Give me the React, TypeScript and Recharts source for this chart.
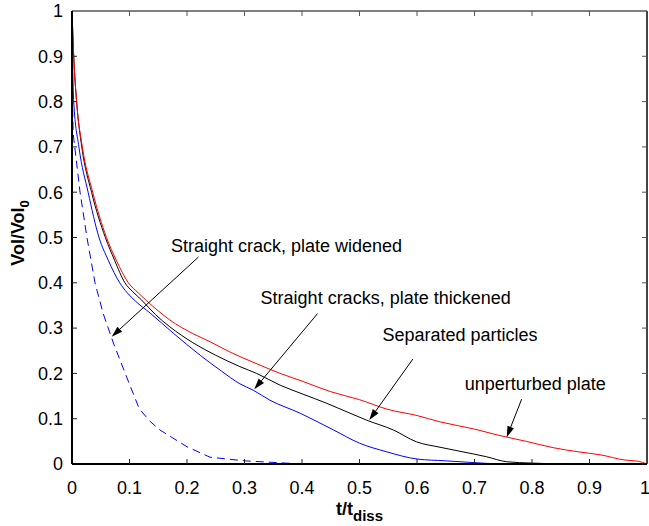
import React from "react";
import {
  LineChart,
  Line,
  XAxis,
  YAxis,
  ReferenceArea,
  ReferenceLine,
  ReferenceDot,
} from "recharts";

type Pt = { x: number; y: number };

// unperturbed plate (red)
const unperturbed: Pt[] = [
  { x: 0, y: 1 }, { x: 0.003, y: 0.9 }, { x: 0.008, y: 0.8 }, { x: 0.018, y: 0.7 },
  { x: 0.036, y: 0.6 }, { x: 0.06, y: 0.5 }, { x: 0.077, y: 0.45 }, { x: 0.098, y: 0.4 },
  { x: 0.115, y: 0.378 }, { x: 0.13, y: 0.36 }, { x: 0.15, y: 0.338 },
  { x: 0.17, y: 0.318 }, { x: 0.21, y: 0.288 }, { x: 0.24, y: 0.27 }, { x: 0.275, y: 0.247 },
  { x: 0.32, y: 0.222 }, { x: 0.362, y: 0.2 }, { x: 0.4, y: 0.183 }, { x: 0.449, y: 0.16 },
  { x: 0.5, y: 0.142 }, { x: 0.548, y: 0.121 }, { x: 0.6, y: 0.107 }, { x: 0.64, y: 0.093 },
  { x: 0.7, y: 0.077 }, { x: 0.74, y: 0.064 }, { x: 0.79, y: 0.05 }, { x: 0.837, y: 0.036 },
  { x: 0.88, y: 0.027 }, { x: 0.92, y: 0.02 }, { x: 0.96, y: 0.009 }, { x: 0.985, y: 0.006 },
  { x: 1, y: 0 },
];

// separated particles (black)
const separated: Pt[] = [
  { x: 0, y: 1 }, { x: 0.003, y: 0.9 }, { x: 0.008, y: 0.8 }, { x: 0.017, y: 0.7 },
  { x: 0.034, y: 0.6 }, { x: 0.058, y: 0.5 }, { x: 0.074, y: 0.45 }, { x: 0.092, y: 0.4 },
  { x: 0.106, y: 0.38 }, { x: 0.121, y: 0.362 }, { x: 0.145, y: 0.33 },
  { x: 0.17, y: 0.303 }, { x: 0.21, y: 0.268 }, { x: 0.25, y: 0.24 }, { x: 0.292, y: 0.215 },
  { x: 0.321, y: 0.2 }, { x: 0.362, y: 0.174 }, { x: 0.4, y: 0.155 }, { x: 0.443, y: 0.134 },
  { x: 0.48, y: 0.114 }, { x: 0.512, y: 0.097 }, { x: 0.559, y: 0.075 }, { x: 0.599, y: 0.049 },
  { x: 0.64, y: 0.037 }, { x: 0.675, y: 0.028 }, { x: 0.721, y: 0.016 }, { x: 0.756, y: 0.005 },
  { x: 0.8, y: 0.002 }, { x: 0.85, y: 0 },
];

// straight cracks, plate thickened (blue solid)
const thickened: Pt[] = [
  { x: 0, y: 0.95 }, { x: 0.003, y: 0.8 }, { x: 0.012, y: 0.7 }, { x: 0.028, y: 0.6 },
  { x: 0.047, y: 0.5 }, { x: 0.063, y: 0.45 }, { x: 0.083, y: 0.4 }, { x: 0.096, y: 0.378 },
  { x: 0.11, y: 0.36 }, { x: 0.136, y: 0.333 },
  { x: 0.176, y: 0.289 }, { x: 0.223, y: 0.24 }, { x: 0.26, y: 0.205 }, { x: 0.292, y: 0.177 },
  { x: 0.315, y: 0.163 }, { x: 0.344, y: 0.141 }, { x: 0.397, y: 0.112 }, { x: 0.455, y: 0.075 },
  { x: 0.5, y: 0.046 }, { x: 0.547, y: 0.027 }, { x: 0.6, y: 0.011 }, { x: 0.65, y: 0.007 },
  { x: 0.687, y: 0.004 }, { x: 0.74, y: 0 },
];

// straight crack, plate widened (blue dashed)
const widened: Pt[] = [
  { x: 0, y: 0.87 }, { x: 0.002, y: 0.73 }, { x: 0.014, y: 0.6 }, { x: 0.026, y: 0.5 },
  { x: 0.04, y: 0.4 }, { x: 0.054, y: 0.333 }, { x: 0.072, y: 0.267 }, { x: 0.095, y: 0.192 },
  { x: 0.117, y: 0.122 }, { x: 0.135, y: 0.095 }, { x: 0.153, y: 0.075 }, { x: 0.2, y: 0.038 },
  { x: 0.24, y: 0.015 }, { x: 0.3, y: 0.007 }, { x: 0.385, y: 0.001 },
];

const ticks = [0, 0.1, 0.2, 0.3, 0.4, 0.5, 0.6, 0.7, 0.8, 0.9, 1];

// annotation text: left edge x, middle y
const notes = [
  { text: "Straight crack, plate widened", x: 0.172, y: 0.483 },
  { text: "Straight cracks, plate thickened", x: 0.328, y: 0.368 },
  { text: "Separated particles", x: 0.54, y: 0.285 },
  { text: "unperturbed plate", x: 0.683, y: 0.178 },
];

// arrows: tail -> head
const arrows = [
  { x1: 0.22, y1: 0.457, x2: 0.069, y2: 0.281 },
  { x1: 0.427, y1: 0.332, x2: 0.317, y2: 0.165 },
  { x1: 0.593, y1: 0.232, x2: 0.517, y2: 0.097 },
  { x1: 0.782, y1: 0.143, x2: 0.756, y2: 0.059 },
];

const W = 649;
const H = 526;
const MARGIN = { top: 11, right: 2, bottom: 0, left: 0 };
const X_H = 62;
const Y_W = 72;
const X_MARGIN = 17;
const Y_MARGIN = 9;
const TICK = 5;

const Arrow = (p: any) => {
  const { x1, y1, x2, y2 } = p;
  const a = Math.atan2(y2 - y1, x2 - x1);
  const len = 11;
  const w = 3.5;
  const bx = x2 - len * Math.cos(a);
  const by = y2 - len * Math.sin(a);
  const nx = -Math.sin(a) * w;
  const ny = Math.cos(a) * w;
  return (
    <g>
      <line x1={x1} y1={y1} x2={bx} y2={by} stroke="#000" strokeWidth={1} />
      <polygon
        points={`${x2},${y2} ${bx + nx},${by + ny} ${bx - nx},${by - ny}`}
        fill="#000"
      />
    </g>
  );
};

// plot box outline from the area's own rectangle
const Frame = (p: any) => {
  const { x, y, width, height } = p;
  return (
    <g>
      <line x1={x} y1={y} x2={x + width} y2={y} stroke="#000" strokeWidth={1} />
      <line x1={x + width} y1={y} x2={x + width} y2={y + height} stroke="#444" strokeWidth={2} />
    </g>
  );
};

// bottom tick label plus inward tick marks on bottom and top edges
const XTick = (p: any) => {
  const v = p.payload.value;
  const axisY = p.y - X_MARGIN;
  const inner = v > 0 && v < 1;
  return (
    <g>
      {inner && <line x1={p.x} x2={p.x} y1={axisY} y2={axisY - TICK} stroke="#222" strokeWidth={1} />}
      {inner && <line x1={p.x} x2={p.x} y1={MARGIN.top} y2={MARGIN.top + TICK} stroke="#555" strokeWidth={1} />}
      <text x={p.x} y={p.y} dy="0.71em" textAnchor="middle" fontSize={18} fill="#000">
        {String(v)}
      </text>
    </g>
  );
};

// left tick label plus inward tick marks on left and right edges
const YTick = (p: any) => {
  const v = p.payload.value;
  const axisX = p.x + Y_MARGIN;
  const right = W - MARGIN.right;
  const inner = v > 0 && v < 1;
  return (
    <g>
      {inner && <line x1={axisX} x2={axisX + TICK} y1={p.y} y2={p.y} stroke="#222" strokeWidth={1} />}
      {inner && <line x1={right} x2={right - TICK} y1={p.y} y2={p.y} stroke="#555" strokeWidth={1} />}
      <text x={p.x} y={p.y} dy="0.355em" textAnchor="end" fontSize={18} fill="#000">
        {String(v)}
      </text>
    </g>
  );
};

const noteShape = (text: string) => (p: any) => (
  <text x={p.cx} y={p.cy} dy="0.35em" fontSize={18} fill="#000" textAnchor="start">
    {text}
  </text>
);

const YTitle = (p: any) => {
  const vb = p.viewBox;
  const cx = vb.x + 24;
  const cy = 233;
  return (
    <text
      x={cx}
      y={cy}
      transform={`rotate(-90 ${cx} ${cy})`}
      textAnchor="middle"
      fontSize={18}
      fontWeight="bold"
      fill="#000"
    >
      Vol/Vol
      <tspan fontSize={13} dy={5}>0</tspan>
    </text>
  );
};

const XTitle = (p: any) => {
  const vb = p.viewBox;
  const cx = vb.x + vb.width / 2;
  return (
    <text x={cx} y={515} textAnchor="middle" fontSize={18} fontWeight="bold" fill="#000">
      t/t
      <tspan fontSize={15} dy={6}>diss</tspan>
    </text>
  );
};

export default function App() {
  return (
    <div
      style={{
        position: "absolute",
        left: 0,
        top: 0,
        width: W,
        height: H,
        background: "#fff",
        fontFamily: "'Liberation Sans', Arial, Helvetica, sans-serif",
      }}
    >
      <LineChart width={W} height={H} margin={MARGIN}>
        <XAxis
          type="number"
          dataKey="x"
          domain={[0, 1]}
          ticks={ticks}
          allowDataOverflow
          height={X_H}
          tickSize={0}
          tickMargin={X_MARGIN}
          tickLine={false}
          tick={XTick}
          axisLine={{ stroke: "#000", strokeWidth: 2 }}
          label={{ content: XTitle }}
        />
        <YAxis
          type="number"
          domain={[0, 1]}
          ticks={ticks}
          allowDataOverflow
          width={Y_W}
          tickSize={0}
          tickMargin={Y_MARGIN}
          tickLine={false}
          tick={YTick}
          axisLine={{ stroke: "#000", strokeWidth: 2 }}
          label={{ content: YTitle }}
        />
        <ReferenceArea x1={0} x2={1} y1={0} y2={1} ifOverflow="visible" shape={Frame} />
        <Line data={widened} dataKey="y" type="linear" stroke="#0000ff" strokeWidth={1} strokeDasharray="8 5" dot={false} isAnimationActive={false} />
        <Line data={thickened} dataKey="y" type="monotone" stroke="#0000ff" strokeWidth={1} dot={false} isAnimationActive={false} />
        <Line data={separated} dataKey="y" type="monotone" stroke="#000000" strokeWidth={1} dot={false} isAnimationActive={false} />
        <Line data={unperturbed} dataKey="y" type="monotone" stroke="#ff0000" strokeWidth={1} dot={false} isAnimationActive={false} />
        {arrows.map((a, i) => (
          <ReferenceLine
            key={`a${i}`}
            segment={[{ x: a.x1, y: a.y1 }, { x: a.x2, y: a.y2 }]}
            shape={Arrow}
          />
        ))}
        {notes.map((n, i) => (
          <ReferenceDot key={`n${i}`} x={n.x} y={n.y} r={0} shape={noteShape(n.text)} />
        ))}
      </LineChart>
    </div>
  );
}
